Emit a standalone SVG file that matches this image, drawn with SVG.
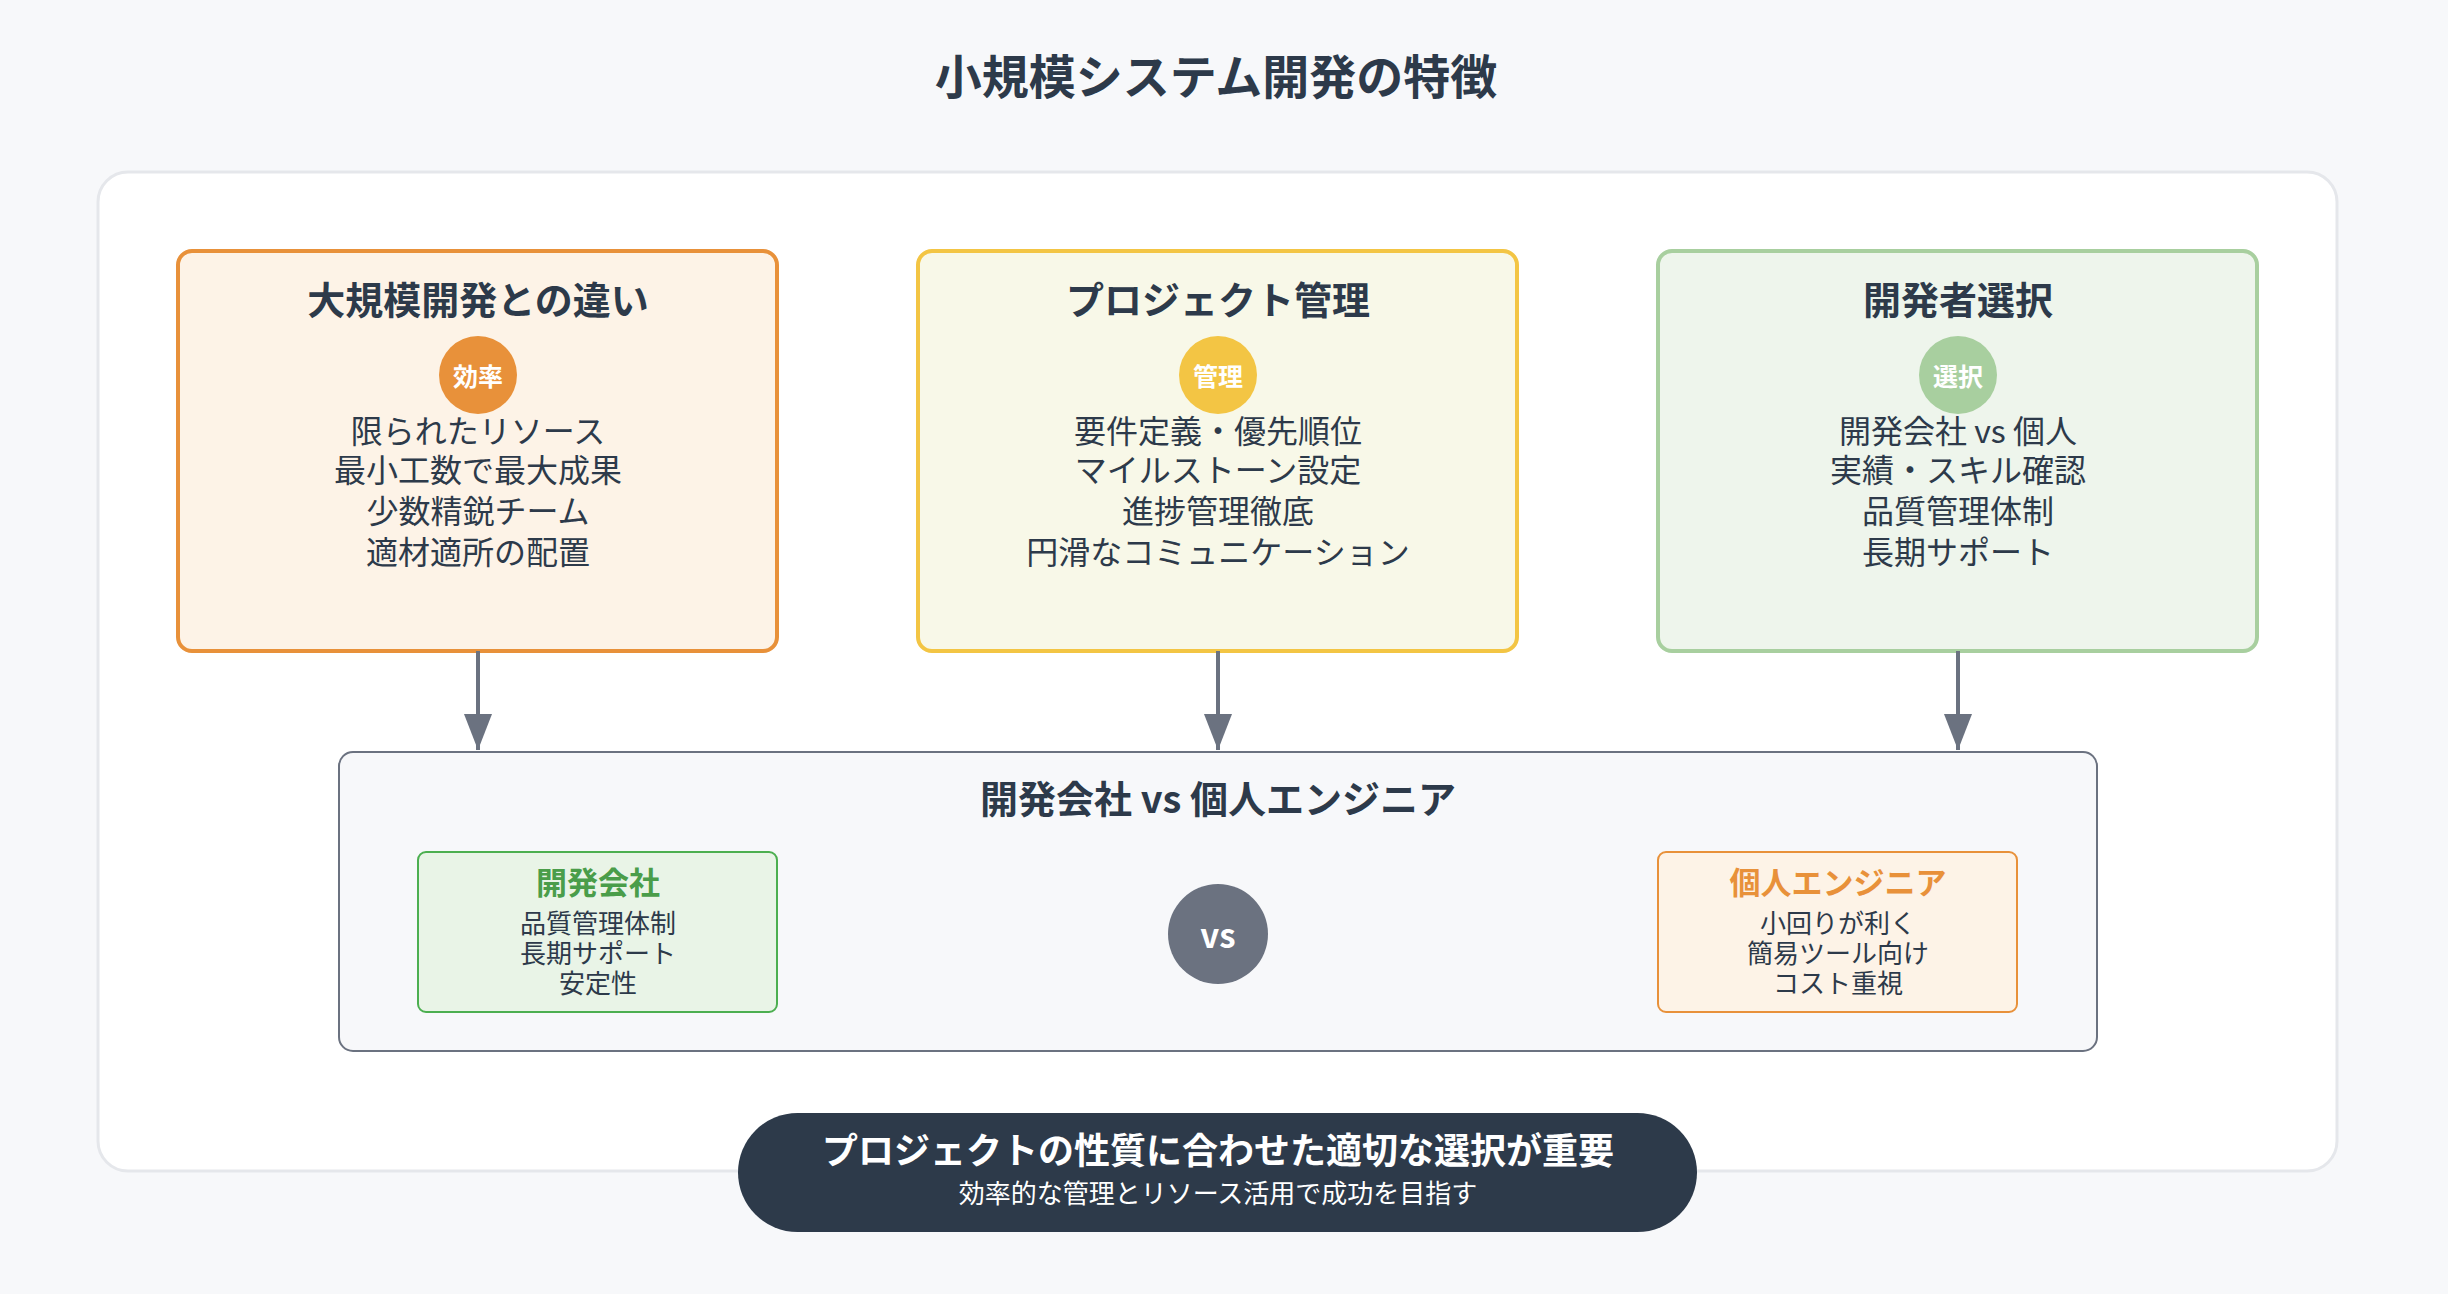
<svg xmlns="http://www.w3.org/2000/svg" width="2448" height="1294" viewBox="0 0 2448 1294">
<defs>
<style>
text{font-family:"Noto Sans CJK JP","Noto Sans",sans-serif;text-anchor:middle;dominant-baseline:central;fill:#2d3a4a}
.h{font-size:38px;font-weight:700}
.c{font-size:25px;font-weight:700;fill:#fff}
.l{font-size:32px}
.s{font-size:26px}
.st{font-size:31px;font-weight:700}
</style>
<marker id="a" markerWidth="36" markerHeight="28" refX="36" refY="14" orient="auto" markerUnits="userSpaceOnUse" viewBox="0 0 36 28"><path d="M0,0 L36,14 L0,28 z" fill="#6b7280"/></marker>
</defs>
<rect width="2448" height="1294" fill="#f7f8fa"/>
<text x="1216" y="73" style="font-size:47px;font-weight:700">小規模システム開発の特徴</text>
<rect x="98" y="172" width="2239" height="999" rx="30" fill="#fff" stroke="#e5e7eb" stroke-width="3"/>
<g id="n1">
<rect x="178" y="251" width="599" height="400" rx="14" fill="#fdf3e7" stroke="#e8913a" stroke-width="4"/>
<text x="478" y="297" class="h">大規模開発との違い</text>
<circle cx="478" cy="375" r="39" fill="#e8913a"/><text x="478" y="375" class="c">効率</text>
<text x="478" y="429" class="l">限られたリソース</text><text x="478" y="468" class="l">最小工数で最大成果</text><text x="478" y="509" class="l">少数精鋭チーム</text><text x="478" y="550" class="l">適材適所の配置</text>
</g>
<g id="n2">
<rect x="918" y="251" width="599" height="400" rx="14" fill="#f8f8e8" stroke="#f3c544" stroke-width="4"/>
<text x="1218" y="297" class="h">プロジェクト管理</text>
<circle cx="1218" cy="375" r="39" fill="#f3c544"/><text x="1218" y="375" class="c">管理</text>
<text x="1218" y="429" class="l">要件定義・優先順位</text><text x="1218" y="468" class="l">マイルストーン設定</text><text x="1218" y="509" class="l">進捗管理徹底</text><text x="1218" y="550" class="l">円滑なコミュニケーション</text>
</g>
<g id="n3">
<rect x="1658" y="251" width="599" height="400" rx="14" fill="#eef5ec" stroke="#a8cf9f" stroke-width="4"/>
<text x="1958" y="297" class="h">開発者選択</text>
<circle cx="1958" cy="375" r="39" fill="#a8cf9f"/><text x="1958" y="375" class="c">選択</text>
<text x="1958" y="429" class="l">開発会社 vs 個人</text><text x="1958" y="468" class="l">実績・スキル確認</text><text x="1958" y="509" class="l">品質管理体制</text><text x="1958" y="550" class="l">長期サポート</text>
</g>
<g id="connectors" stroke="#6b7280" stroke-width="4" fill="none">
<line x1="478" y1="651" x2="478" y2="750" marker-end="url(#a)"/>
<line x1="1218" y1="651" x2="1218" y2="750" marker-end="url(#a)"/>
<line x1="1958" y1="651" x2="1958" y2="750" marker-end="url(#a)"/>
</g>
<g id="n4">
<rect x="339" y="752" width="1758" height="299" rx="14" fill="#f7f8fa" stroke="#6b7280" stroke-width="2"/>
<text x="1218" y="796" class="h">開発会社 vs 個人エンジニア</text>
</g>
<g id="n5">
<rect x="418" y="852" width="359" height="160" rx="8" fill="#e9f4e7" stroke="#4caf50" stroke-width="2"/>
<text x="598" y="880" class="st" style="fill:#4a9d4a">開発会社</text>
<text x="598" y="921" class="s">品質管理体制</text><text x="598" y="951" class="s">長期サポート</text><text x="598" y="981" class="s">安定性</text>
</g>
<g id="n6">
<circle cx="1218" cy="934" r="50" fill="#6b7280"/>
<text x="1218" y="934" style="font-size:33px;font-weight:700;fill:#fff">vs</text>
</g>
<g id="n7">
<rect x="1658" y="852" width="359" height="160" rx="8" fill="#fdf3e7" stroke="#e8913a" stroke-width="2"/>
<text x="1838" y="880" class="st" style="fill:#e8913a">個人エンジニア</text>
<text x="1838" y="921" class="s">小回りが利く</text><text x="1838" y="951" class="s">簡易ツール向け</text><text x="1838" y="981" class="s">コスト重視</text>
</g>
<g id="n8">
<rect x="738" y="1113" width="959" height="119" rx="59.5" fill="#2d3a4a"/>
<text x="1218" y="1148" style="font-size:36px;font-weight:700;fill:#fff">プロジェクトの性質に合わせた適切な選択が重要</text>
<text x="1218" y="1191" style="font-size:26px;fill:#fff">効率的な管理とリソース活用で成功を目指す</text>
</g>
</svg>
